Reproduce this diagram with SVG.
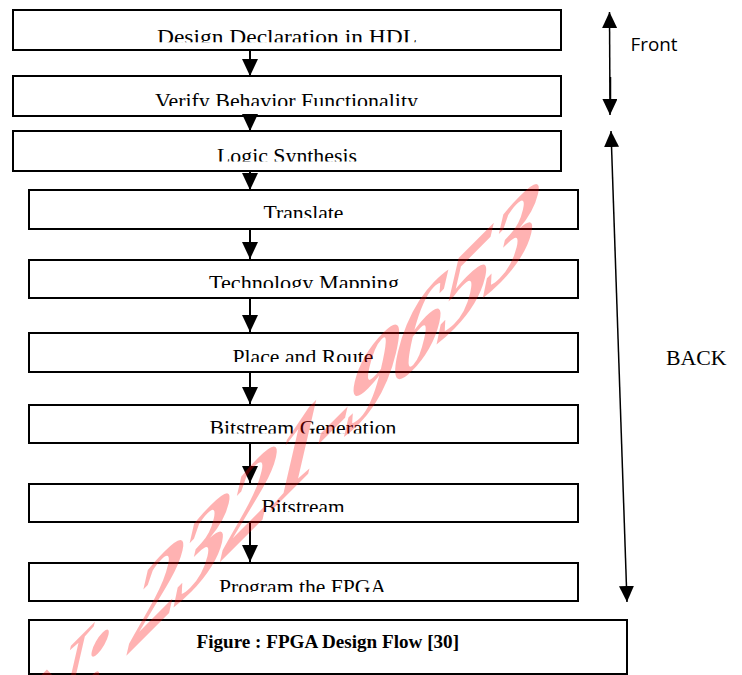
<svg xmlns="http://www.w3.org/2000/svg" width="742" height="675" viewBox="0 0 742 675">
  <style>
    .box { fill: #ffffff; stroke: #000000; stroke-width: 2; }
    .lbl { font-family: "Liberation Serif", "Times New Roman", serif; font-size: 22px; fill: #000000; }
    .cap { font-family: "Liberation Serif", "Times New Roman", serif; font-size: 19px; font-weight: bold; fill: #000000; }
    .flow { stroke: #000000; stroke-width: 2; fill: none; }
    .side { stroke: #000000; stroke-width: 1.5; fill: none; }
    .wm { font-family: "Liberation Serif", "Times New Roman", serif; font-size: 100px; font-weight: bold; letter-spacing: -4.7px; fill: #ff0000; fill-opacity: 0.3; }
  </style>
  <defs>
    <marker id="ah" markerUnits="userSpaceOnUse" viewBox="0 0 17 16" markerWidth="17" markerHeight="16" refX="17" refY="8" orient="auto">
      <path d="M0,0 L17,8 L0,16 Z" fill="#000000"/>
    </marker>
    <marker id="as" markerUnits="userSpaceOnUse" viewBox="0 0 16 15" markerWidth="16" markerHeight="15" refX="16" refY="7.5" orient="auto-start-reverse">
      <path d="M0,0 L16,7.5 L0,15 Z" fill="#000000"/>
    </marker>
    <clipPath id="c1"><rect x="0" y="0" width="742" height="42.3"/></clipPath>
    <clipPath id="c2"><rect x="0" y="76" width="742" height="30"/></clipPath>
    <clipPath id="c3"><rect x="0" y="131" width="742" height="30.5"/></clipPath>
    <clipPath id="c4"><rect x="0" y="190" width="742" height="28"/></clipPath>
    <clipPath id="c5"><rect x="0" y="260" width="742" height="28"/></clipPath>
    <clipPath id="c6"><rect x="0" y="333" width="742" height="29"/></clipPath>
    <clipPath id="c7"><rect x="0" y="405" width="742" height="28.5"/></clipPath>
    <clipPath id="c8"><rect x="0" y="484" width="742" height="28"/></clipPath>
    <clipPath id="c9"><rect x="0" y="563" width="742" height="29"/></clipPath>
  </defs>

  <g id="node-design">
    <rect class="box" x="13" y="10" width="548" height="40"/>
    <text class="lbl" x="157" y="43.8" textLength="260" lengthAdjust="spacingAndGlyphs" clip-path="url(#c1)">Design Declaration in HDL</text>
  </g>
  <g id="node-verify">
    <rect class="box" x="13" y="76" width="548" height="40"/>
    <text class="lbl" x="155" y="107.5" textLength="263" lengthAdjust="spacingAndGlyphs" clip-path="url(#c2)">Verify Behavior Functionality</text>
  </g>
  <g id="node-logic">
    <rect class="box" x="13" y="131" width="548" height="40"/>
    <text class="lbl" x="217" y="163" textLength="140" lengthAdjust="spacingAndGlyphs" clip-path="url(#c3)">Logic Synthesis</text>
  </g>
  <g id="node-translate">
    <rect class="box" x="29" y="190" width="549" height="39"/>
    <text class="lbl" x="263.5" y="219.5" textLength="80" lengthAdjust="spacingAndGlyphs" clip-path="url(#c4)">Translate</text>
  </g>
  <g id="node-techmap">
    <rect class="box" x="29" y="260" width="549" height="38"/>
    <text class="lbl" x="209" y="289.5" textLength="190" lengthAdjust="spacingAndGlyphs" clip-path="url(#c5)">Technology Mapping</text>
  </g>
  <g id="node-place">
    <rect class="box" x="29" y="333" width="549" height="39"/>
    <text class="lbl" x="232.5" y="363.5" textLength="141" lengthAdjust="spacingAndGlyphs" clip-path="url(#c6)">Place and Route</text>
  </g>
  <g id="node-bitgen">
    <rect class="box" x="29" y="405" width="549" height="38"/>
    <text class="lbl" x="209.5" y="435" textLength="187" lengthAdjust="spacingAndGlyphs" clip-path="url(#c7)">Bitstream Generation</text>
  </g>
  <g id="node-bitstream">
    <rect class="box" x="29" y="484" width="549" height="38"/>
    <text class="lbl" x="261.5" y="513.5" textLength="83" lengthAdjust="spacingAndGlyphs" clip-path="url(#c8)">Bitstream</text>
  </g>
  <g id="node-program">
    <rect class="box" x="29" y="563" width="549" height="38"/>
    <text class="lbl" x="219" y="593.5" textLength="167" lengthAdjust="spacingAndGlyphs" clip-path="url(#c9)">Program the FPGA</text>
  </g>
  <g id="node-caption">
    <rect class="box" x="29" y="620" width="598" height="54"/>
    <text class="cap" x="196.5" y="648" textLength="262.5" lengthAdjust="spacingAndGlyphs">Figure : FPGA Design Flow [30]</text>
  </g>

  <g id="connectors">
    <line class="flow" x1="250" y1="50" x2="250" y2="76" marker-end="url(#ah)"/>
    <line class="flow" x1="250" y1="116" x2="250" y2="131" marker-end="url(#ah)"/>
    <line class="flow" x1="250" y1="171" x2="250" y2="190" marker-end="url(#ah)"/>
    <line class="flow" x1="250" y1="229" x2="250" y2="259" marker-end="url(#ah)"/>
    <line class="flow" x1="250" y1="298" x2="250" y2="332" marker-end="url(#ah)"/>
    <line class="flow" x1="250" y1="372" x2="250" y2="404" marker-end="url(#ah)"/>
    <line class="flow" x1="250" y1="443" x2="250" y2="483" marker-end="url(#ah)"/>
    <line class="flow" x1="250" y1="522" x2="250" y2="562" marker-end="url(#ah)"/>
    <line class="side" x1="609.5" y1="12" x2="610" y2="115" stroke-width="1.2" marker-start="url(#as)" marker-end="url(#as)"/>
    <line class="side" x1="610.5" y1="77" x2="610.5" y2="100" stroke-width="2"/>
    <line class="side" x1="611" y1="131" x2="627" y2="602" marker-start="url(#as)" marker-end="url(#as)"/>
  </g>

  <g id="labels">
    <text x="630.5" y="51" font-family="'Open Sans', 'Noto Sans', sans-serif" font-size="18" textLength="47" lengthAdjust="spacingAndGlyphs" fill="#000000">Front</text>
    <text x="666" y="365" font-family="'Liberation Serif', 'Times New Roman', serif" font-size="21" textLength="60.5" lengthAdjust="spacingAndGlyphs" fill="#000000">BACK</text>
  </g>

  <g id="watermark">
    <text class="wm" transform="matrix(1.03,-1.03,-0.3,1.3,2.2,779.8)" x="0" y="0">N: 2321-9653</text>
  </g>
</svg>
